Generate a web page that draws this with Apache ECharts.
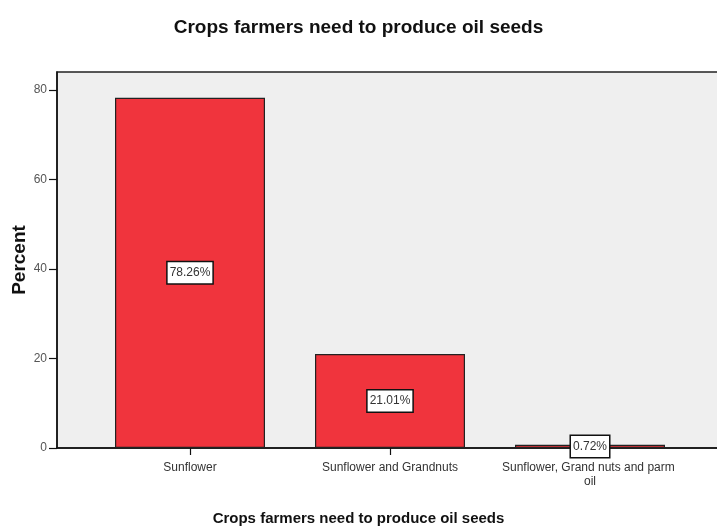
<!DOCTYPE html>
<html>
<head>
<meta charset="utf-8">
<script src="https://cdn.jsdelivr.net/npm/echarts@6/dist/echarts.min.js"></script>
<style>
  html, body { margin: 0; padding: 0; background: #fff; }
  #chart { width: 717px; height: 529px; }
</style>
</head>
<body>
<div id="chart"></div>
<script>
// data
var categories = ['Sunflower', 'Sunflower and Grandnuts', 'Sunflower, Grand nuts and parm oil'];
var percents = [78.26, 21.01, 0.72];
var yTicks = [0, 20, 40, 60, 80];

var FONT = "'Liberation Sans Narrow', 'Liberation Sans', Arial, sans-serif";

var chart = echarts.init(document.getElementById('chart'));

chart.setOption({
  animation: false,
  textStyle: { fontFamily: FONT },
  title: [
    {
      text: 'Crops farmers need to produce oil seeds',
      left: 'center',
      top: 13,
      textStyle: { fontFamily: FONT, fontSize: 19, fontWeight: 'bold', color: '#111' }
    },
    {
      // x axis title, centred on the page like the original
      text: 'Crops farmers need to produce oil seeds',
      left: 'center',
      top: 511,
      padding: 0,
      textStyle: { fontFamily: FONT, fontSize: 15, fontWeight: 'bold', color: '#111' }
    }
  ],
  grid: [
    // background frame, spans past the right edge like the original
    { left: 57, right: -20, top: 72, bottom: 81, show: true, outerBoundsMode: 'none', containLabel: false,
      backgroundColor: '#efefef', borderColor: '#222', borderWidth: 1.5 },
    // band where the bars sit
    { left: 90, width: 600, top: 72, bottom: 81, outerBoundsMode: 'none', containLabel: false }
  ],
  xAxis: [
    {
      gridIndex: 0, type: 'value', min: 0, max: 1,
      axisLine: { show: true, lineStyle: { color: '#111', width: 1.5 } },
      axisTick: { show: false }, axisLabel: { show: false }, splitLine: { show: false }
    },
    {
      gridIndex: 1, type: 'category', data: categories,
      axisLine: { show: false },
      axisTick: { show: true, alignWithLabel: true, length: 7, lineStyle: { color: '#111', width: 1.2 } },
      axisLabel: { interval: 0, hideOverlap: false, fontFamily: FONT, fontSize: 12, color: '#333',
        margin: 13, width: 185, overflow: 'break', lineHeight: 14 }
    }
  ],
  yAxis: [
    {
      gridIndex: 0, type: 'value', min: 0, max: 84, interval: 20,
      axisLine: { show: true, lineStyle: { color: '#111', width: 1.5 } },
      axisTick: { show: true, length: 8, lineStyle: { color: '#111', width: 1.2 }, customValues: yTicks },
      axisLabel: { fontFamily: FONT, fontSize: 12, color: '#555', margin: 10, customValues: yTicks },
      splitLine: { show: false },
      name: 'Percent', nameLocation: 'middle', nameGap: 28, nameMoveOverlap: false,
      nameTextStyle: { fontFamily: FONT, fontSize: 19, fontWeight: 'bold', color: '#111' }
    },
    {
      gridIndex: 1, type: 'value', min: 0, max: 84, show: false
    }
  ],
  series: [
    {
      type: 'bar',
      xAxisIndex: 1,
      yAxisIndex: 1,
      data: percents,
      barWidth: '75%',
      itemStyle: { color: '#f0343d', borderColor: '#222', borderWidth: 1.2 },
      label: {
        show: true,
        position: 'inside',
        formatter: function (p) { return p.value.toFixed(2) + '%'; },
        fontFamily: FONT, fontSize: 12, color: '#333',
        backgroundColor: '#fff', borderColor: '#111', borderWidth: 1.5,
        padding: [5, 2, 4, 2]
      }
    }
  ]
});
</script>
</body>
</html>
